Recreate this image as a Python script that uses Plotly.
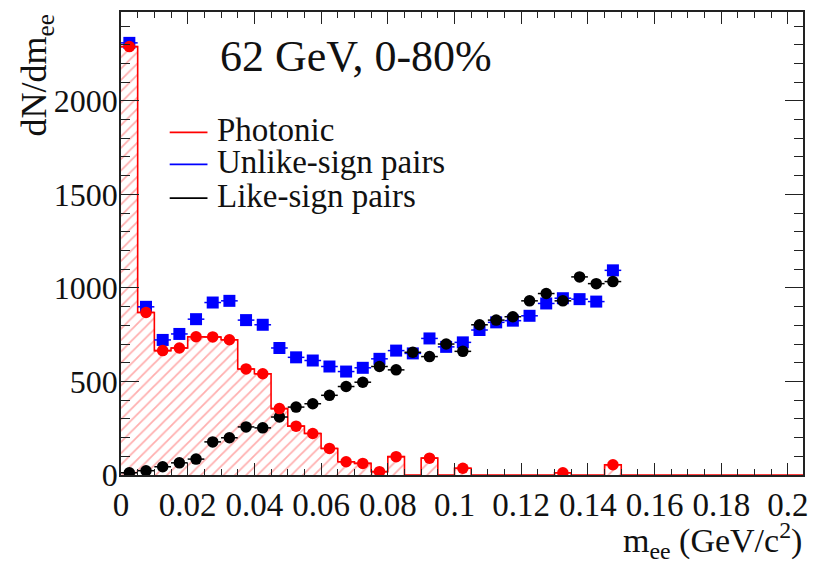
import plotly.graph_objects as go

# ---- data ----
bin_edges = [0.000, 0.005, 0.010, 0.015, 0.020, 0.025, 0.030, 0.035, 0.040, 0.045,
             0.050, 0.055, 0.060, 0.065, 0.070, 0.075, 0.080, 0.085, 0.090, 0.095,
             0.100, 0.105, 0.110, 0.115, 0.120, 0.125, 0.130, 0.135, 0.140, 0.145, 0.150]
bin_centers = [0.0025, 0.0075, 0.0125, 0.0175, 0.0225, 0.0275, 0.0325, 0.0375, 0.0425, 0.0475,
               0.0525, 0.0575, 0.0625, 0.0675, 0.0725, 0.0775, 0.0825, 0.0875, 0.0925, 0.0975,
               0.1025, 0.1075, 0.1125, 0.1175, 0.1225, 0.1275, 0.1325, 0.1375, 0.1425, 0.1475]

unlike_sign = [2310, 899, 722, 754, 833, 922, 931, 828, 803, 679,
               629, 612, 580, 553, 573, 621, 665, 650, 730, 685,
               709, 775, 816, 825, 851, 917, 945, 940, 927, 1094]
like_sign = [12, 23, 44, 65, 85, 177, 199, 257, 252, 310,
             363, 381, 426, 473, 496, 580, 562, 656, 633, 700,
             661, 803, 828, 846, 931, 970, 931, 1059, 1023, 1034]
photonic = [2290, 869, 665, 679, 739, 738, 723, 567, 541, 355,
            261, 222, 142, 71, 62, 18, 98, 0, 90, 0,
            36, 0, 0, 0, 0, 0, 12, 0, 0, 55]

x_ticks = [0, 0.02, 0.04, 0.06, 0.08, 0.1, 0.12, 0.14, 0.16, 0.18, 0.2]
x_tick_labels = ["0", "0.02", "0.04", "0.06", "0.08", "0.1", "0.12", "0.14", "0.16", "0.18", "0.2"]
y_ticks = [0, 500, 1000, 1500, 2000]

X_MAX = 0.2045
Y_MAX = 2475
HALF_BIN = 0.0025
FONT = "Liberation Serif"

fig = go.Figure()

# photonic step histogram with hatch
step_x = bin_edges + [X_MAX]
step_y = photonic + [0, 0]
fig.add_trace(go.Scatter(
    x=step_x, y=step_y, mode="lines", line=dict(color="red", width=1.6, shape="hv"),
    fill="tozeroy", fillcolor="rgba(0,0,0,0)",
    fillpattern=dict(shape="/", fgcolor="rgba(255,40,40,0.75)", bgcolor="white",
                     size=8, solidity=0.22),
    showlegend=False, hoverinfo="skip"))

fig.add_trace(go.Scatter(
    x=bin_centers, y=unlike_sign, mode="markers",
    marker=dict(symbol="square", size=12, color="blue"),
    error_x=dict(type="constant", value=HALF_BIN, color="blue", thickness=1.5, width=0),
    showlegend=False))

fig.add_trace(go.Scatter(
    x=bin_centers, y=like_sign, mode="markers",
    marker=dict(symbol="circle", size=11.5, color="black"),
    error_x=dict(type="constant", value=HALF_BIN, color="black", thickness=1.5, width=0),
    showlegend=False))

ph_x = [c for c, v in zip(bin_centers, photonic) if v > 0]
ph_y = [v for v in photonic if v > 0]
fig.add_trace(go.Scatter(
    x=ph_x, y=ph_y, mode="markers",
    marker=dict(symbol="circle", size=11.5, color="red"),
    error_x=dict(type="constant", value=HALF_BIN, color="red", thickness=1.5, width=0),
    showlegend=False))

# manual legend (line samples + text)
legend_items = [("Photonic", "red", 0.740), ("Unlike-sign pairs", "blue", 0.671),
                ("Like-sign pairs", "black", 0.598)]
shapes = []
annotations = []
for label, col, yy in legend_items:
    shapes.append(dict(type="line", xref="paper", yref="paper", x0=0.0714, x1=0.1268,
                       y0=yy, y1=yy, line=dict(color=col, width=1.6)))
    annotations.append(dict(text=label, xref="paper", yref="paper", x=0.1385, y=yy + 0.005,
                            xanchor="left", yanchor="middle", showarrow=False,
                            font=dict(family=FONT, size=33, color="#111")))

annotations.append(dict(text="62 GeV, 0-80%", xref="paper", yref="paper", x=0.344, y=0.903,
                        xanchor="center", yanchor="middle", showarrow=False,
                        font=dict(family=FONT, size=44, color="#111")))
annotations.append(dict(text="m<sub>ee</sub> (GeV/c<sup>2</sup>)", xref="paper", yref="paper",
                        x=1.0015, y=-0.141, xanchor="right", yanchor="middle", showarrow=False,
                        font=dict(family=FONT, size=34, color="#111")))
annotations.append(dict(text="dN/dm<sub>ee</sub>", xref="paper", yref="paper",
                        x=-0.124, y=1.0, xanchor="center", yanchor="top", textangle=-90,
                        showarrow=False, font=dict(family=FONT, size=36, color="#111")))

fig.update_layout(
    width=819, height=563,
    margin=dict(l=121, r=11, t=10, b=88),
    paper_bgcolor="white", plot_bgcolor="white",
    font=dict(family=FONT, color="#111"),
    shapes=shapes, annotations=annotations,
    showlegend=False,
)
fig.update_xaxes(
    range=[0, X_MAX], tickvals=x_ticks, ticktext=x_tick_labels,
    ticks="inside", ticklen=12, tickwidth=1.3, tickcolor="#222",
    minor=dict(dtick=0.005, tick0=0, ticks="inside", ticklen=6, tickwidth=1.3, tickcolor="#222"),
    showline=True, linecolor="#222", linewidth=1.6, mirror="allticks",
    showgrid=False, zeroline=False,
    tickfont=dict(family=FONT, size=33, color="#111"),
)
fig.update_yaxes(
    range=[0, Y_MAX], tickvals=y_ticks,
    ticks="inside", ticklen=18, tickwidth=1.3, tickcolor="#222",
    minor=dict(dtick=100, tick0=0, ticks="inside", ticklen=9, tickwidth=1.3, tickcolor="#222"),
    showline=True, linecolor="#222", linewidth=1.6, mirror="allticks",
    showgrid=False, zeroline=False, ticklabelstandoff=-5,
    tickfont=dict(family=FONT, size=32, color="#111"),
)

fig.write_html("out.html")
